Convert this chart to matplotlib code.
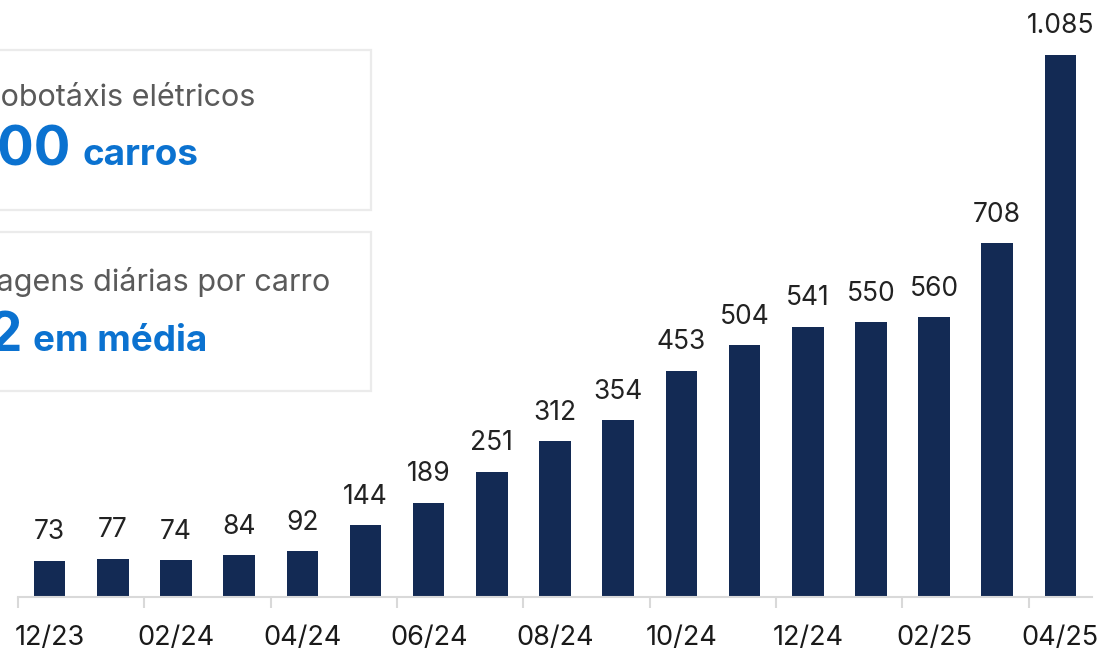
import matplotlib
matplotlib.use("Agg")
import matplotlib.pyplot as plt
from matplotlib.patches import Rectangle

months = ["12/23", "01/24", "02/24", "03/24", "04/24", "05/24", "06/24", "07/24",
          "08/24", "09/24", "10/24", "11/24", "12/24", "01/25", "02/25", "03/25", "04/25"]
values = [73, 77, 74, 84, 92, 144, 189, 251, 312, 354, 453, 504, 541, 550, 560, 708, 1085]
labels = ["73", "77", "74", "84", "92", "144", "189", "251", "312", "354", "453",
          "504", "541", "550", "560", "708", "1.085"]

plt.rcParams['font.family'] = ['Inter', 'DejaVu Sans']

W, H = 1099, 651
fig = plt.figure(figsize=(W / 100, H / 100), dpi=100)
ax = fig.add_axes([18 / W, 1 - 597 / H, (1092 - 18) / W, 597 / H])

bar_color = '#132a54'
x = list(range(len(months)))
ax.bar(x, values, width=0.5, color=bar_color, zorder=2)
for xi, v, lab in zip(x, values, labels):
    ax.annotate(lab, (xi, v), xytext=(0, 11), textcoords='offset points',
                ha='center', va='bottom', fontsize=19, color='#222222')

ax.set_xlim(-0.5, len(months) - 0.5)
ax.set_ylim(0, 1194)
for s in ['top', 'right', 'left']:
    ax.spines[s].set_visible(False)
ax.spines['bottom'].set_color('#d9d9d9')
ax.spines['bottom'].set_linewidth(1.5)
ax.set_yticks([])

major = [i - 0.5 for i in range(0, len(months), 2)]
ax.set_xticks(major)
ax.set_xticklabels([])
ax.tick_params(axis='x', which='major', length=8, width=1.5, color='#d9d9d9')
ax.set_xticks(x[::2], minor=True)
ax.set_xticklabels(months[::2], minor=True)
ax.tick_params(axis='x', which='minor', length=0, pad=20, labelsize=19.5, labelcolor='#1a1a1a')

# info boxes
def box(y_top, y_bot):
    r = Rectangle((-10 / W, 1 - y_bot / H), (371 + 10) / W, (y_bot - y_top) / H,
                  transform=fig.transFigure, facecolor='white', edgecolor='#ebebeb',
                  linewidth=1.6, zorder=5)
    fig.patches.append(r)

box(50, 210)
box(232, 391)

grey = '#5a5a5a'
blue = '#0B72D0'
fig.text(255 / W, 1 - 98 / H, "Robotáxis elétricos", ha='right', va='center',
         fontsize=22, color=grey, zorder=6)
fig.text(71 / W, 1 - 165 / H, "1.000", ha='right', va='baseline',
         fontsize=39, fontweight='bold', color=blue, zorder=6)
fig.text(82 / W, 1 - 165 / H, "carros", ha='left', va='baseline',
         fontsize=26.5, fontweight='bold', color=blue, zorder=6)

fig.text(330 / W, 1 - 282 / H, "Viagens diárias por carro", ha='right', va='center',
         fontsize=22, color=grey, zorder=6)
fig.text(23 / W, 1 - 351 / H, "12", ha='right', va='baseline',
         fontsize=39, fontweight='bold', color=blue, zorder=6)
fig.text(33 / W, 1 - 351 / H, "em média", ha='left', va='baseline',
         fontsize=26.5, fontweight='bold', color=blue, zorder=6)

fig.savefig("out.png", dpi=100)
